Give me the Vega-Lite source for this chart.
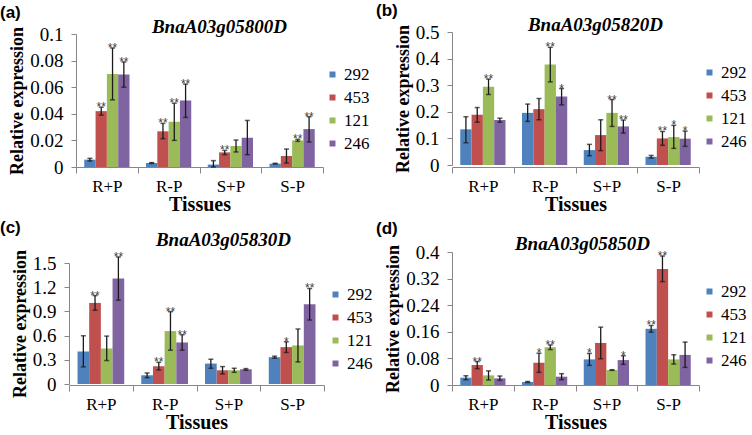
{
  "$schema": "https://vega.github.io/schema/vega-lite/v6.json",
  "background": "white",
  "padding": {"left": 0, "top": 2, "right": 0, "bottom": 0},
  "config": {
    "view": {"stroke": null},
    "font": "Liberation Serif",
    "axis": {"domainColor": "#868686", "tickColor": "#868686", "labelColor": "black", "titleColor": "black", "labelFont": "Liberation Serif", "titleFont": "Liberation Serif", "titleFontWeight": "bold", "grid": false},
    "axisY": {"labelFontSize": 19, "titleFontSize": 18, "tickSize": 5, "labelPadding": 8, "titlePadding": 3, "labelOverlap": false},
    "axisX": {"labelFontSize": 17, "titleFontSize": 20, "tickSize": 6, "tickBand": "extent", "labelPadding": 5, "titlePadding": 0, "labelAngle": 0},
    "tick": {"thickness": 1.5, "size": 5, "color": "#1a1a1a"},
    "rule": {"color": "#1a1a1a", "strokeWidth": 1.3}
  },
  "datasets": {
    "expr": [
      {"gene": "BnaA03g05800D", "tissue": "R+P", "cultivar": "292", "mean": 0.0055, "lo": 0.0045, "hi": 0.0065, "sig": ""},
      {"gene": "BnaA03g05800D", "tissue": "R+P", "cultivar": "453", "mean": 0.042, "lo": 0.039, "hi": 0.045, "sig": "**"},
      {"gene": "BnaA03g05800D", "tissue": "R+P", "cultivar": "121", "mean": 0.070, "lo": 0.0505, "hi": 0.0895, "sig": "**"},
      {"gene": "BnaA03g05800D", "tissue": "R+P", "cultivar": "246", "mean": 0.0695, "lo": 0.060, "hi": 0.079, "sig": "**"},
      {"gene": "BnaA03g05800D", "tissue": "R-P", "cultivar": "292", "mean": 0.003, "lo": 0.0027, "hi": 0.0033, "sig": ""},
      {"gene": "BnaA03g05800D", "tissue": "R-P", "cultivar": "453", "mean": 0.0268, "lo": 0.0213, "hi": 0.0328, "sig": "**"},
      {"gene": "BnaA03g05800D", "tissue": "R-P", "cultivar": "121", "mean": 0.034, "lo": 0.020, "hi": 0.048, "sig": "**"},
      {"gene": "BnaA03g05800D", "tissue": "R-P", "cultivar": "246", "mean": 0.050, "lo": 0.0373, "hi": 0.0623, "sig": "**"},
      {"gene": "BnaA03g05800D", "tissue": "S+P", "cultivar": "292", "mean": 0.0018, "lo": 0.0, "hi": 0.0048, "sig": ""},
      {"gene": "BnaA03g05800D", "tissue": "S+P", "cultivar": "453", "mean": 0.011, "lo": 0.0093, "hi": 0.0125, "sig": "**"},
      {"gene": "BnaA03g05800D", "tissue": "S+P", "cultivar": "121", "mean": 0.0158, "lo": 0.0113, "hi": 0.0203, "sig": ""},
      {"gene": "BnaA03g05800D", "tissue": "S+P", "cultivar": "246", "mean": 0.022, "lo": 0.0093, "hi": 0.035, "sig": ""},
      {"gene": "BnaA03g05800D", "tissue": "S-P", "cultivar": "292", "mean": 0.0025, "lo": 0.0022, "hi": 0.0028, "sig": ""},
      {"gene": "BnaA03g05800D", "tissue": "S-P", "cultivar": "453", "mean": 0.0083, "lo": 0.003, "hi": 0.0135, "sig": ""},
      {"gene": "BnaA03g05800D", "tissue": "S-P", "cultivar": "121", "mean": 0.020, "lo": 0.0193, "hi": 0.0208, "sig": "**"},
      {"gene": "BnaA03g05800D", "tissue": "S-P", "cultivar": "246", "mean": 0.0285, "lo": 0.0188, "hi": 0.0378, "sig": "**"},

      {"gene": "BnaA03g05820D", "tissue": "R+P", "cultivar": "292", "mean": 0.134, "lo": 0.084, "hi": 0.181, "sig": ""},
      {"gene": "BnaA03g05820D", "tissue": "R+P", "cultivar": "453", "mean": 0.189, "lo": 0.161, "hi": 0.216, "sig": ""},
      {"gene": "BnaA03g05820D", "tissue": "R+P", "cultivar": "121", "mean": 0.294, "lo": 0.265, "hi": 0.323, "sig": "**"},
      {"gene": "BnaA03g05820D", "tissue": "R+P", "cultivar": "246", "mean": 0.169, "lo": 0.161, "hi": 0.176, "sig": ""},
      {"gene": "BnaA03g05820D", "tissue": "R-P", "cultivar": "292", "mean": 0.196, "lo": 0.164, "hi": 0.229, "sig": ""},
      {"gene": "BnaA03g05820D", "tissue": "R-P", "cultivar": "453", "mean": 0.21, "lo": 0.17, "hi": 0.25, "sig": ""},
      {"gene": "BnaA03g05820D", "tissue": "R-P", "cultivar": "121", "mean": 0.3775, "lo": 0.3125, "hi": 0.4425, "sig": "**"},
      {"gene": "BnaA03g05820D", "tissue": "R-P", "cultivar": "246", "mean": 0.2575, "lo": 0.226, "hi": 0.2875, "sig": "*"},
      {"gene": "BnaA03g05820D", "tissue": "S+P", "cultivar": "292", "mean": 0.056, "lo": 0.035, "hi": 0.0775, "sig": ""},
      {"gene": "BnaA03g05820D", "tissue": "S+P", "cultivar": "453", "mean": 0.1125, "lo": 0.054, "hi": 0.17, "sig": ""},
      {"gene": "BnaA03g05820D", "tissue": "S+P", "cultivar": "121", "mean": 0.196, "lo": 0.145, "hi": 0.246, "sig": "**"},
      {"gene": "BnaA03g05820D", "tissue": "S+P", "cultivar": "246", "mean": 0.145, "lo": 0.12, "hi": 0.169, "sig": "**"},
      {"gene": "BnaA03g05820D", "tissue": "S-P", "cultivar": "292", "mean": 0.031, "lo": 0.026, "hi": 0.036, "sig": ""},
      {"gene": "BnaA03g05820D", "tissue": "S-P", "cultivar": "453", "mean": 0.10, "lo": 0.074, "hi": 0.126, "sig": "**"},
      {"gene": "BnaA03g05820D", "tissue": "S-P", "cultivar": "121", "mean": 0.105, "lo": 0.0625, "hi": 0.149, "sig": "*"},
      {"gene": "BnaA03g05820D", "tissue": "S-P", "cultivar": "246", "mean": 0.099, "lo": 0.07, "hi": 0.1275, "sig": "*"},

      {"gene": "BnaA03g05830D", "tissue": "R+P", "cultivar": "292", "mean": 0.403, "lo": 0.212, "hi": 0.598, "sig": ""},
      {"gene": "BnaA03g05830D", "tissue": "R+P", "cultivar": "453", "mean": 1.005, "lo": 0.914, "hi": 1.096, "sig": "**"},
      {"gene": "BnaA03g05830D", "tissue": "R+P", "cultivar": "121", "mean": 0.44, "lo": 0.291, "hi": 0.594, "sig": ""},
      {"gene": "BnaA03g05830D", "tissue": "R+P", "cultivar": "246", "mean": 1.309, "lo": 1.039, "hi": 1.575, "sig": "**"},
      {"gene": "BnaA03g05830D", "tissue": "R-P", "cultivar": "292", "mean": 0.108, "lo": 0.079, "hi": 0.137, "sig": ""},
      {"gene": "BnaA03g05830D", "tissue": "R-P", "cultivar": "453", "mean": 0.22, "lo": 0.174, "hi": 0.269, "sig": "**"},
      {"gene": "BnaA03g05830D", "tissue": "R-P", "cultivar": "121", "mean": 0.656, "lo": 0.419, "hi": 0.897, "sig": "**"},
      {"gene": "BnaA03g05830D", "tissue": "R-P", "cultivar": "246", "mean": 0.515, "lo": 0.419, "hi": 0.611, "sig": "**"},
      {"gene": "BnaA03g05830D", "tissue": "S+P", "cultivar": "292", "mean": 0.253, "lo": 0.195, "hi": 0.307, "sig": ""},
      {"gene": "BnaA03g05830D", "tissue": "S+P", "cultivar": "453", "mean": 0.17, "lo": 0.125, "hi": 0.216, "sig": ""},
      {"gene": "BnaA03g05830D", "tissue": "S+P", "cultivar": "121", "mean": 0.17, "lo": 0.145, "hi": 0.195, "sig": ""},
      {"gene": "BnaA03g05830D", "tissue": "S+P", "cultivar": "246", "mean": 0.183, "lo": 0.17, "hi": 0.191, "sig": ""},
      {"gene": "BnaA03g05830D", "tissue": "S-P", "cultivar": "292", "mean": 0.332, "lo": 0.32, "hi": 0.345, "sig": ""},
      {"gene": "BnaA03g05830D", "tissue": "S-P", "cultivar": "453", "mean": 0.457, "lo": 0.391, "hi": 0.523, "sig": "*"},
      {"gene": "BnaA03g05830D", "tissue": "S-P", "cultivar": "121", "mean": 0.478, "lo": 0.274, "hi": 0.682, "sig": ""},
      {"gene": "BnaA03g05830D", "tissue": "S-P", "cultivar": "246", "mean": 0.989, "lo": 0.793, "hi": 1.184, "sig": "**"},

      {"gene": "BnaA03g05850D", "tissue": "R+P", "cultivar": "292", "mean": 0.022, "lo": 0.016, "hi": 0.028, "sig": ""},
      {"gene": "BnaA03g05850D", "tissue": "R+P", "cultivar": "453", "mean": 0.060, "lo": 0.049, "hi": 0.0705, "sig": "**"},
      {"gene": "BnaA03g05850D", "tissue": "R+P", "cultivar": "121", "mean": 0.029, "lo": 0.015, "hi": 0.0425, "sig": ""},
      {"gene": "BnaA03g05850D", "tissue": "R+P", "cultivar": "246", "mean": 0.020, "lo": 0.014, "hi": 0.027, "sig": ""},
      {"gene": "BnaA03g05850D", "tissue": "R-P", "cultivar": "292", "mean": 0.009, "lo": 0.0075, "hi": 0.0105, "sig": ""},
      {"gene": "BnaA03g05850D", "tissue": "R-P", "cultivar": "453", "mean": 0.067, "lo": 0.038, "hi": 0.0955, "sig": "*"},
      {"gene": "BnaA03g05850D", "tissue": "R-P", "cultivar": "121", "mean": 0.1135, "lo": 0.1065, "hi": 0.1205, "sig": "**"},
      {"gene": "BnaA03g05850D", "tissue": "R-P", "cultivar": "246", "mean": 0.025, "lo": 0.016, "hi": 0.034, "sig": ""},
      {"gene": "BnaA03g05850D", "tissue": "S+P", "cultivar": "292", "mean": 0.077, "lo": 0.059, "hi": 0.095, "sig": "*"},
      {"gene": "BnaA03g05850D", "tissue": "S+P", "cultivar": "453", "mean": 0.1265, "lo": 0.079, "hi": 0.174, "sig": ""},
      {"gene": "BnaA03g05850D", "tissue": "S+P", "cultivar": "121", "mean": 0.045, "lo": 0.044, "hi": 0.046, "sig": ""},
      {"gene": "BnaA03g05850D", "tissue": "S+P", "cultivar": "246", "mean": 0.075, "lo": 0.062, "hi": 0.088, "sig": "*"},
      {"gene": "BnaA03g05850D", "tissue": "S-P", "cultivar": "292", "mean": 0.169, "lo": 0.159, "hi": 0.179, "sig": "**"},
      {"gene": "BnaA03g05850D", "tissue": "S-P", "cultivar": "453", "mean": 0.349, "lo": 0.311, "hi": 0.388, "sig": "**"},
      {"gene": "BnaA03g05850D", "tissue": "S-P", "cultivar": "121", "mean": 0.077, "lo": 0.063, "hi": 0.091, "sig": ""},
      {"gene": "BnaA03g05850D", "tissue": "S-P", "cultivar": "246", "mean": 0.0905, "lo": 0.053, "hi": 0.129, "sig": ""}
    ]
  },
  "columns": 2,
  "spacing": {"column": 129, "row": 85},
  "bounds": "flush",
  "resolve": {"scale": {"x": "independent", "y": "independent", "color": "independent", "xOffset": "independent"}, "legend": {"color": "independent"}, "axis": {"x": "independent", "y": "independent"}},
  "concat": [
    {
      "width": 247, "height": 133,
      "data": {"name": "expr"},
      "transform": [{"filter": {"field": "gene", "equal": "BnaA03g05800D"}}],
      "encoding": {
        "x": {"field": "tissue", "type": "nominal", "title": "Tissues", "scale": {"domain": ["R+P", "R-P", "S+P", "S-P"], "paddingInner": 0, "paddingOuter": 0}}
      },
      "layer": [
        {"mark": {"type": "bar"}, "encoding": {
          "xOffset": {"field": "cultivar", "type": "nominal", "scale": {"domain": ["292", "453", "121", "246"], "paddingInner": 0, "paddingOuter": 0.73}},
          "y": {"field": "mean", "type": "quantitative", "title": "Relative expression", "scale": {"domain": [0, 0.1], "nice": false}, "axis": {"values": [0, 0.02, 0.04, 0.06, 0.08, 0.1], "format": "~g", "labelOverlap": false}},
          "color": {"field": "cultivar", "type": "nominal", "scale": {"domain": ["292", "453", "121", "246"], "range": ["#4F81BD", "#C0504D", "#9BBB59", "#8064A2"]},
            "legend": {"title": null, "orient": "none", "legendX": 248, "legendY": 32, "symbolType": "square", "symbolSize": 36, "symbolStrokeWidth": 0, "labelFont": "Liberation Serif", "labelFontSize": 17, "labelColor": "black", "labelOffset": 3, "rowPadding": 5, "padding": 0}}}},
        {"mark": {"type": "rule"}, "encoding": {"xOffset": {"field": "cultivar", "type": "nominal"}, "y": {"field": "lo", "type": "quantitative", "title": "Relative expression", "axis": {"values": [0, 0.02, 0.04, 0.06, 0.08, 0.1], "format": "~g", "labelOverlap": false}}, "y2": {"field": "hi"}}},
        {"mark": {"type": "tick"}, "encoding": {"xOffset": {"field": "cultivar", "type": "nominal"}, "y": {"field": "hi", "type": "quantitative", "title": "Relative expression", "axis": {"values": [0, 0.02, 0.04, 0.06, 0.08, 0.1], "format": "~g", "labelOverlap": false}}}},
        {"mark": {"type": "tick"}, "encoding": {"xOffset": {"field": "cultivar", "type": "nominal"}, "y": {"field": "lo", "type": "quantitative", "title": "Relative expression", "axis": {"values": [0, 0.02, 0.04, 0.06, 0.08, 0.1], "format": "~g", "labelOverlap": false}}}},
        {"mark": {"type": "text", "font": "Liberation Sans", "fontSize": 12, "baseline": "alphabetic", "dy": 4, "color": "#404040"}, "encoding": {"xOffset": {"field": "cultivar", "type": "nominal"}, "y": {"field": "hi", "type": "quantitative", "title": "Relative expression", "axis": {"values": [0, 0.02, 0.04, 0.06, 0.08, 0.1], "format": "~g", "labelOverlap": false}}, "text": {"field": "sig"}}},
        {"data": {"values": [{"gene": "BnaA03g05800D", "label": "(a)"}]}, "mark": {"type": "text", "align": "left", "baseline": "top", "font": "Liberation Sans", "fontSize": 17, "fontWeight": "bold", "color": "black", "dx": -76, "dy": -29},
          "encoding": {"x": {"datum": "R+P", "type": "nominal", "bandPosition": 0, "title": "Tissues"}, "y": {"datum": 0.1, "type": "quantitative", "title": "Relative expression", "axis": {"values": [0, 0.02, 0.04, 0.06, 0.08, 0.1], "format": "~g", "labelOverlap": false}}, "text": {"field": "label"}}},
        {"data": {"values": [{"gene": "BnaA03g05800D", "label": "BnaA03g05800D"}]}, "mark": {"type": "text", "align": "center", "baseline": "alphabetic", "font": "Liberation Serif", "fontSize": 19, "fontStyle": "italic", "fontWeight": "bold", "color": "black", "dx": 20, "dy": -1},
          "encoding": {"x": {"datum": "R-P", "type": "nominal", "bandPosition": 1, "title": "Tissues"}, "y": {"datum": 0.1, "type": "quantitative", "title": "Relative expression", "axis": {"values": [0, 0.02, 0.04, 0.06, 0.08, 0.1], "format": "~g", "labelOverlap": false}}, "text": {"field": "label"}}}
      ]
    },
    {
      "width": 247, "height": 133,
      "data": {"name": "expr"},
      "transform": [{"filter": {"field": "gene", "equal": "BnaA03g05820D"}}],
      "encoding": {
        "x": {"field": "tissue", "type": "nominal", "title": "Tissues", "scale": {"domain": ["R+P", "R-P", "S+P", "S-P"], "paddingInner": 0, "paddingOuter": 0}}
      },
      "layer": [
        {"mark": {"type": "bar"}, "encoding": {
          "xOffset": {"field": "cultivar", "type": "nominal", "scale": {"domain": ["292", "453", "121", "246"], "paddingInner": 0, "paddingOuter": 0.73}},
          "y": {"field": "mean", "type": "quantitative", "title": "Relative expression", "scale": {"domain": [0, 0.5], "nice": false, "range": [131, -2]}, "axis": {"values": [0, 0.1, 0.2, 0.3, 0.4, 0.5], "format": "~g", "labelOverlap": false}},
          "color": {"field": "cultivar", "type": "nominal", "scale": {"domain": ["292", "453", "121", "246"], "range": ["#4F81BD", "#C0504D", "#9BBB59", "#8064A2"]},
            "legend": {"title": null, "orient": "none", "legendX": 249, "legendY": 30, "symbolType": "square", "symbolSize": 36, "symbolStrokeWidth": 0, "labelFont": "Liberation Serif", "labelFontSize": 17, "labelColor": "black", "labelOffset": 3, "rowPadding": 5, "padding": 0}}}},
        {"mark": {"type": "rule"}, "encoding": {"xOffset": {"field": "cultivar", "type": "nominal"}, "y": {"field": "lo", "type": "quantitative", "title": "Relative expression", "axis": {"values": [0, 0.1, 0.2, 0.3, 0.4, 0.5], "format": "~g", "labelOverlap": false}}, "y2": {"field": "hi"}}},
        {"mark": {"type": "tick"}, "encoding": {"xOffset": {"field": "cultivar", "type": "nominal"}, "y": {"field": "hi", "type": "quantitative", "title": "Relative expression", "axis": {"values": [0, 0.1, 0.2, 0.3, 0.4, 0.5], "format": "~g", "labelOverlap": false}}}},
        {"mark": {"type": "tick"}, "encoding": {"xOffset": {"field": "cultivar", "type": "nominal"}, "y": {"field": "lo", "type": "quantitative", "title": "Relative expression", "axis": {"values": [0, 0.1, 0.2, 0.3, 0.4, 0.5], "format": "~g", "labelOverlap": false}}}},
        {"mark": {"type": "text", "font": "Liberation Sans", "fontSize": 12, "baseline": "alphabetic", "dy": 4, "color": "#404040"}, "encoding": {"xOffset": {"field": "cultivar", "type": "nominal"}, "y": {"field": "hi", "type": "quantitative", "title": "Relative expression", "axis": {"values": [0, 0.1, 0.2, 0.3, 0.4, 0.5], "format": "~g", "labelOverlap": false}}, "text": {"field": "sig"}}},
        {"data": {"values": [{"gene": "BnaA03g05820D", "label": "(b)"}]}, "mark": {"type": "text", "align": "left", "baseline": "top", "font": "Liberation Sans", "fontSize": 17, "fontWeight": "bold", "color": "black", "dx": -76, "dy": -29},
          "encoding": {"x": {"datum": "R+P", "type": "nominal", "bandPosition": 0, "title": "Tissues"}, "y": {"datum": 0.5, "type": "quantitative", "title": "Relative expression", "axis": {"values": [0, 0.1, 0.2, 0.3, 0.4, 0.5], "format": "~g", "labelOverlap": false}}, "text": {"field": "label"}}},
        {"data": {"values": [{"gene": "BnaA03g05820D", "label": "BnaA03g05820D"}]}, "mark": {"type": "text", "align": "center", "baseline": "alphabetic", "font": "Liberation Serif", "fontSize": 19, "fontStyle": "italic", "fontWeight": "bold", "color": "black", "dx": 20, "dy": -1},
          "encoding": {"x": {"datum": "R-P", "type": "nominal", "bandPosition": 1, "title": "Tissues"}, "y": {"datum": 0.5, "type": "quantitative", "title": "Relative expression", "axis": {"values": [0, 0.1, 0.2, 0.3, 0.4, 0.5], "format": "~g", "labelOverlap": false}}, "text": {"field": "label"}}}
      ]
    },
    {
      "width": 247, "height": 133,
      "data": {"name": "expr"},
      "transform": [{"filter": {"field": "gene", "equal": "BnaA03g05830D"}}],
      "encoding": {
        "x": {"field": "tissue", "type": "nominal", "title": "Tissues", "scale": {"domain": ["R+P", "R-P", "S+P", "S-P"], "paddingInner": 0, "paddingOuter": 0, "range": [-7, 248]}}
      },
      "layer": [
        {"mark": {"type": "bar"}, "encoding": {
          "xOffset": {"field": "cultivar", "type": "nominal", "scale": {"domain": ["292", "453", "121", "246"], "paddingInner": 0, "paddingOuter": 0.73}},
          "y": {"field": "mean", "type": "quantitative", "title": "Relative expression", "scale": {"domain": [0, 1.5], "nice": false, "range": [132, 11]}, "axis": {"values": [0, 0.3, 0.6, 0.9, 1.2, 1.5], "format": "~g", "offset": 7, "labelOverlap": false}},
          "color": {"field": "cultivar", "type": "nominal", "scale": {"domain": ["292", "453", "121", "246"], "range": ["#4F81BD", "#C0504D", "#9BBB59", "#8064A2"]},
            "legend": {"title": null, "orient": "none", "legendX": 251, "legendY": 34, "symbolType": "square", "symbolSize": 36, "symbolStrokeWidth": 0, "labelFont": "Liberation Serif", "labelFontSize": 17, "labelColor": "black", "labelOffset": 3, "rowPadding": 5, "padding": 0}}}},
        {"mark": {"type": "rule"}, "encoding": {"xOffset": {"field": "cultivar", "type": "nominal"}, "y": {"field": "lo", "type": "quantitative", "title": "Relative expression", "axis": {"values": [0, 0.3, 0.6, 0.9, 1.2, 1.5], "format": "~g", "offset": 7, "labelOverlap": false}}, "y2": {"field": "hi"}}},
        {"mark": {"type": "tick"}, "encoding": {"xOffset": {"field": "cultivar", "type": "nominal"}, "y": {"field": "hi", "type": "quantitative", "title": "Relative expression", "axis": {"values": [0, 0.3, 0.6, 0.9, 1.2, 1.5], "format": "~g", "offset": 7, "labelOverlap": false}}}},
        {"mark": {"type": "tick"}, "encoding": {"xOffset": {"field": "cultivar", "type": "nominal"}, "y": {"field": "lo", "type": "quantitative", "title": "Relative expression", "axis": {"values": [0, 0.3, 0.6, 0.9, 1.2, 1.5], "format": "~g", "offset": 7, "labelOverlap": false}}}},
        {"mark": {"type": "text", "font": "Liberation Sans", "fontSize": 12, "baseline": "alphabetic", "dy": 4, "color": "#404040"}, "encoding": {"xOffset": {"field": "cultivar", "type": "nominal"}, "y": {"field": "hi", "type": "quantitative", "title": "Relative expression", "axis": {"values": [0, 0.3, 0.6, 0.9, 1.2, 1.5], "format": "~g", "offset": 7, "labelOverlap": false}}, "text": {"field": "sig"}}},
        {"data": {"values": [{"gene": "BnaA03g05830D", "label": "(c)"}]}, "mark": {"type": "text", "align": "left", "baseline": "top", "font": "Liberation Sans", "fontSize": 17, "fontWeight": "bold", "color": "black", "dx": -69, "dy": -43},
          "encoding": {"x": {"datum": "R+P", "type": "nominal", "bandPosition": 0, "title": "Tissues"}, "y": {"datum": 1.5, "type": "quantitative", "title": "Relative expression", "axis": {"values": [0, 0.3, 0.6, 0.9, 1.2, 1.5], "format": "~g", "offset": 7, "labelOverlap": false}}, "text": {"field": "label"}}},
        {"data": {"values": [{"gene": "BnaA03g05830D", "label": "BnaA03g05830D"}]}, "mark": {"type": "text", "align": "center", "baseline": "alphabetic", "font": "Liberation Serif", "fontSize": 19, "fontStyle": "italic", "fontWeight": "bold", "color": "black", "dx": 27, "dy": -17},
          "encoding": {"x": {"datum": "R-P", "type": "nominal", "bandPosition": 1, "title": "Tissues"}, "y": {"datum": 1.5, "type": "quantitative", "title": "Relative expression", "axis": {"values": [0, 0.3, 0.6, 0.9, 1.2, 1.5], "format": "~g", "offset": 7, "labelOverlap": false}}, "text": {"field": "label"}}}
      ]
    },
    {
      "width": 247, "height": 133,
      "data": {"name": "expr"},
      "transform": [{"filter": {"field": "gene", "equal": "BnaA03g05850D"}}],
      "encoding": {
        "x": {"field": "tissue", "type": "nominal", "title": "Tissues", "scale": {"domain": ["R+P", "R-P", "S+P", "S-P"], "paddingInner": 0, "paddingOuter": 0}}
      },
      "layer": [
        {"mark": {"type": "bar"}, "encoding": {
          "xOffset": {"field": "cultivar", "type": "nominal", "scale": {"domain": ["292", "453", "121", "246"], "paddingInner": 0, "paddingOuter": 0.73}},
          "y": {"field": "mean", "type": "quantitative", "title": "Relative expression", "scale": {"domain": [0, 0.4], "nice": false}, "axis": {"values": [0, 0.08, 0.16, 0.24, 0.32, 0.4], "format": "~g", "labelOverlap": false}},
          "color": {"field": "cultivar", "type": "nominal", "scale": {"domain": ["292", "453", "121", "246"], "range": ["#4F81BD", "#C0504D", "#9BBB59", "#8064A2"]},
            "legend": {"title": null, "orient": "none", "legendX": 249, "legendY": 31, "symbolType": "square", "symbolSize": 36, "symbolStrokeWidth": 0, "labelFont": "Liberation Serif", "labelFontSize": 17, "labelColor": "black", "labelOffset": 3, "rowPadding": 5, "padding": 0}}}},
        {"mark": {"type": "rule"}, "encoding": {"xOffset": {"field": "cultivar", "type": "nominal"}, "y": {"field": "lo", "type": "quantitative", "title": "Relative expression", "axis": {"values": [0, 0.08, 0.16, 0.24, 0.32, 0.4], "format": "~g", "labelOverlap": false}}, "y2": {"field": "hi"}}},
        {"mark": {"type": "tick"}, "encoding": {"xOffset": {"field": "cultivar", "type": "nominal"}, "y": {"field": "hi", "type": "quantitative", "title": "Relative expression", "axis": {"values": [0, 0.08, 0.16, 0.24, 0.32, 0.4], "format": "~g", "labelOverlap": false}}}},
        {"mark": {"type": "tick"}, "encoding": {"xOffset": {"field": "cultivar", "type": "nominal"}, "y": {"field": "lo", "type": "quantitative", "title": "Relative expression", "axis": {"values": [0, 0.08, 0.16, 0.24, 0.32, 0.4], "format": "~g", "labelOverlap": false}}}},
        {"mark": {"type": "text", "font": "Liberation Sans", "fontSize": 12, "baseline": "alphabetic", "dy": 4, "color": "#404040"}, "encoding": {"xOffset": {"field": "cultivar", "type": "nominal"}, "y": {"field": "hi", "type": "quantitative", "title": "Relative expression", "axis": {"values": [0, 0.08, 0.16, 0.24, 0.32, 0.4], "format": "~g", "labelOverlap": false}}, "text": {"field": "sig"}}},
        {"data": {"values": [{"gene": "BnaA03g05850D", "label": "(d)"}]}, "mark": {"type": "text", "align": "left", "baseline": "top", "font": "Liberation Sans", "fontSize": 17, "fontWeight": "bold", "color": "black", "dx": -76, "dy": -31},
          "encoding": {"x": {"datum": "R+P", "type": "nominal", "bandPosition": 0, "title": "Tissues"}, "y": {"datum": 0.4, "type": "quantitative", "title": "Relative expression", "axis": {"values": [0, 0.08, 0.16, 0.24, 0.32, 0.4], "format": "~g", "labelOverlap": false}}, "text": {"field": "label"}}},
        {"data": {"values": [{"gene": "BnaA03g05850D", "label": "BnaA03g05850D"}]}, "mark": {"type": "text", "align": "center", "baseline": "alphabetic", "font": "Liberation Serif", "fontSize": 19, "fontStyle": "italic", "fontWeight": "bold", "color": "black", "dx": 7, "dy": -2},
          "encoding": {"x": {"datum": "R-P", "type": "nominal", "bandPosition": 1, "title": "Tissues"}, "y": {"datum": 0.4, "type": "quantitative", "title": "Relative expression", "axis": {"values": [0, 0.08, 0.16, 0.24, 0.32, 0.4], "format": "~g", "labelOverlap": false}}, "text": {"field": "label"}}}
      ]
    }
  ]
}
